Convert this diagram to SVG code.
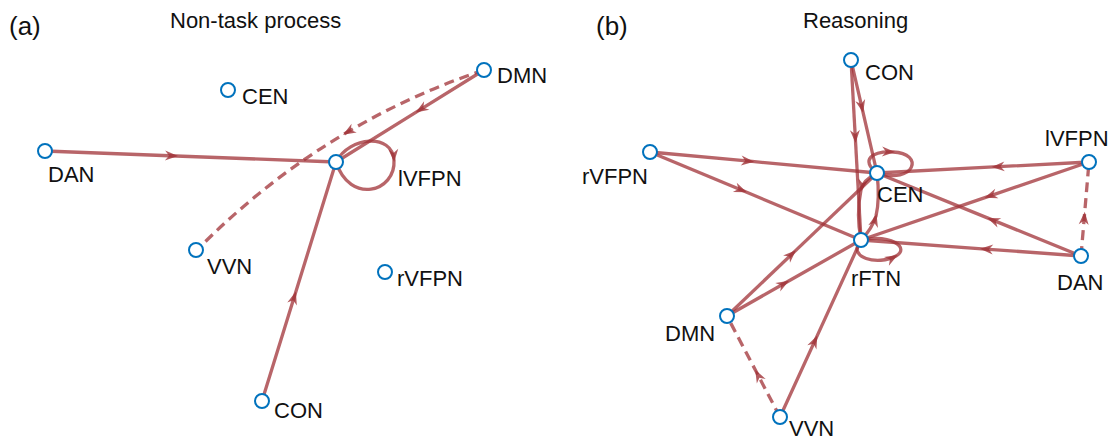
<svg xmlns="http://www.w3.org/2000/svg" width="1115" height="441" viewBox="0 0 1115 441">
<style>
  .e{fill:none;stroke:rgb(160,50,55);stroke-opacity:0.75;stroke-width:3.3;stroke-linejoin:round;marker-mid:url(#ah)}
  .d{stroke-dasharray:10 6}
  .n{fill:#fff;stroke:#0072BD;stroke-width:2}
  .t{font-family:"Liberation Sans",Arial,sans-serif;font-size:22px;fill:#111}
  .h{font-family:"Liberation Sans",Arial,sans-serif;font-size:26px;fill:#111}
</style>
<defs>
  <marker id="ah" markerUnits="userSpaceOnUse" markerWidth="20" markerHeight="20" viewBox="-12 -10 20 20" refX="0" refY="0" orient="auto">
    <path d="M-11,-5 L2,0 L-11,5 L-7,0 Z" fill="rgb(160,50,55)" fill-opacity="0.8"/>
  </marker>
</defs>
<rect width="1115" height="441" fill="#fff"/>
<text class="h" x="9" y="35">(a)</text>
<text class="t" x="170" y="28" font-size="23">Non-task process</text>
<text class="h" x="596" y="35">(b)</text>
<text class="t" x="803" y="28">Reasoning</text>

<g id="edges-a">
  <path class="e" d="M45,151 L176,156 L336,162"/>
  <path class="e" d="M484,70 L417.4,111.4 L336,162"/>
  <path class="e" d="M262,401 L295.3,293.5 L336,162"/>
  <path class="e d" d="M484,70 Q410.2,94.75 344.7,133.7 Q264.65,181.25 197,250"/>
  <path class="e" d="M336,162 C350,136 392,133 394,160 C396,192 350,205 336,162"/>
</g>
<g id="edges-b">
  <path class="e" d="M851,60 L862.7,110.85 L877,173"/>
  <path class="e" d="M851,60 L855.5,141 L861,240"/>
  <path class="e" d="M650,152 L752.15,161.45 L877,173"/>
  <path class="e" d="M650,152 L744.95,191.6 L861,240"/>
  <path class="e" d="M1089,162 L993.6,166.95 L877,173"/>
  <path class="e" d="M1089,162 L986.4,197.1 L861,240"/>
  <path class="e" d="M1081,256 L989.2,218.65 L877,173"/>
  <path class="e" d="M1081,256 L982,248.8 L861,240"/>
  <path class="e d" d="M1081,256 L1084.6,213.7 L1089,162"/>
  <path class="e" d="M727,316 L794.5,251.65 L877,173"/>
  <path class="e" d="M727,316 L787.3,281.8 L861,240"/>
  <path class="e" d="M780,417 L816.45,337.35 L861,240"/>
  <path class="e d" d="M780,417 L756.15,371.55 L727,316"/>
  <path class="e" d="M877,173 Q863,180 861,190 Q856,214 861,240"/>
  <path class="e" d="M861,240 Q872,229 876,216 Q880,199 877,173"/>
  <path class="e" d="M877,173 C860,160 872,151 893,152 C925,153 915,185 877,173"/>
  <path class="e" d="M861,240 C846,258 878,266 896,256 C910,248 892,234 861,240"/>
</g>

<g id="a-DMN"><circle class="n" cx="484" cy="70" r="7"/><text class="t" x="497" y="83">DMN</text></g>
<g id="a-CEN"><circle class="n" cx="228" cy="90" r="7"/><text class="t" x="242" y="104">CEN</text></g>
<g id="a-DAN"><circle class="n" cx="45" cy="151" r="7"/><text class="t" x="48" y="182">DAN</text></g>
<g id="a-lVFPN"><circle class="n" cx="336" cy="162" r="7"/><text class="t" x="398" y="186">lVFPN</text></g>
<g id="a-VVN"><circle class="n" cx="196" cy="250" r="7"/><text class="t" x="207" y="274">VVN</text></g>
<g id="a-rVFPN"><circle class="n" cx="385" cy="272" r="7"/><text class="t" x="397" y="286">rVFPN</text></g>
<g id="a-CON"><circle class="n" cx="262" cy="401" r="7"/><text class="t" x="274" y="418">CON</text></g>

<g id="b-CON"><circle class="n" cx="851" cy="60" r="7"/><text class="t" x="865" y="80">CON</text></g>
<g id="b-lVFPN"><circle class="n" cx="1089" cy="162" r="7"/><text class="t" x="1045" y="146">lVFPN</text></g>
<g id="b-rVFPN"><circle class="n" cx="650" cy="152" r="7"/><text class="t" x="582" y="184">rVFPN</text></g>
<g id="b-CEN"><circle class="n" cx="877" cy="173" r="7"/><text class="t" x="877" y="202">CEN</text></g>
<g id="b-rFTN"><circle class="n" cx="861" cy="240" r="7"/><text class="t" x="851" y="286">rFTN</text></g>
<g id="b-DAN"><circle class="n" cx="1081" cy="256" r="7"/><text class="t" x="1057" y="290">DAN</text></g>
<g id="b-DMN"><circle class="n" cx="727" cy="316" r="7"/><text class="t" x="665" y="341">DMN</text></g>
<g id="b-VVN"><circle class="n" cx="780" cy="417" r="7"/><text class="t" x="789" y="436">VVN</text></g>
</svg>
